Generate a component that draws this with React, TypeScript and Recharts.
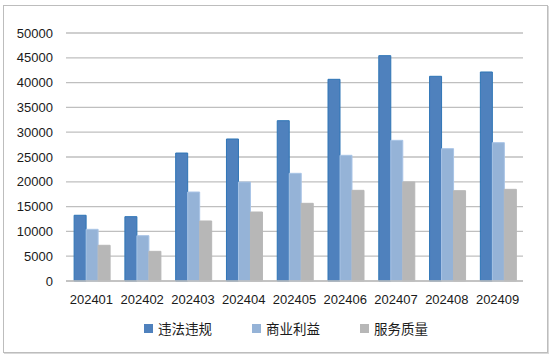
import React from "react";
import { BarChart, Bar, XAxis, YAxis, CartesianGrid, Legend } from "recharts";

const months = ["202401", "202402", "202403", "202404", "202405", "202406", "202407", "202408", "202409"];
const violations = [13250, 12970, 25800, 28630, 32320, 40660, 45430, 41270, 42140];
const commercial = [10420, 9140, 17940, 19960, 21710, 25340, 28360, 26680, 27890];
const service = [7200, 5980, 12100, 13910, 15660, 18280, 19960, 18210, 18480];
const yTicks = [0, 5000, 10000, 15000, 20000, 25000, 30000, 35000, 40000, 45000, 50000];

const SERIES = [
  { key: "violations", name: "违法违规", fill: "#4F81BD", stroke: "#2E75B6" },
  { key: "commercial", name: "商业利益", fill: "#95B3D7", stroke: "#A9C4E6" },
  { key: "service", name: "服务质量", fill: "#B7B7B7", stroke: "#B7B7B7" },
];

const data = months.map((m, i) => ({
  name: m,
  violations: violations[i],
  commercial: commercial[i],
  service: service[i],
}));

const FONT = "'Liberation Sans', Arial, 'Noto Sans CJK SC', sans-serif";

function LegendRow(props: any) {
  const payload = [...(props.payload || [])];
  // keep series order, not alphabetical
  payload.sort(
    (a: any, b: any) =>
      SERIES.findIndex((s) => s.name === a.value) - SERIES.findIndex((s) => s.name === b.value)
  );
  return (
    <div style={{ display: "flex", alignItems: "center", marginLeft: 144, height: 20 }}>
      {payload.map((p: any) => (
        <div key={p.value} style={{ display: "flex", alignItems: "center", marginRight: 40 }}>
          <span
            style={{
              width: 9,
              height: 9,
              background: p.color,
              display: "inline-block",
              marginRight: 5,
            }}
          />
          <span style={{ fontSize: 13.5, color: "#1a1a1a", fontFamily: "'Noto Sans CJK SC', sans-serif" }}>
            {p.value}
          </span>
        </div>
      ))}
    </div>
  );
}

export default function App() {
  return (
    <div style={{ position: "absolute", left: 0, top: 0, width: 550, height: 354, background: "#fff", fontFamily: FONT }}>
      <div
        style={{
          position: "absolute",
          left: 3,
          top: 5,
          width: 543,
          height: 346,
          border: "1px solid #BDBDBD",
          boxShadow: "1px 1px 0 #D9D9D9",
        }}
      />
      <BarChart
        width={550}
        height={354}
        data={data}
        margin={{ top: 33, right: 27, left: 0, bottom: 16 }}
        barCategoryGap="16%"
        barGap={0}
      >
        <CartesianGrid horizontal vertical={false} stroke="#BFBFBF" strokeWidth={1.3} />
        <XAxis
          dataKey="name"
          height={37}
          tickLine={false}
          axisLine={{ stroke: "#BFBFBF", strokeWidth: 1.3 }}
          tickMargin={8}
          tick={{ fontSize: 13, fill: "#1a1a1a" }}
          interval={0}
        />
        <YAxis
          width={66}
          domain={[0, 50000]}
          ticks={yTicks}
          tickLine={false}
          axisLine={false}
          tickMargin={7}
          tick={{ fontSize: 13, fill: "#1a1a1a" }}
        />
        <Legend verticalAlign="bottom" content={<LegendRow />} />
        {SERIES.map((s) => (
          <Bar
            key={s.key}
            dataKey={s.key}
            name={s.name}
            fill={s.fill}
            stroke={s.stroke}
            strokeWidth={1}
            isAnimationActive={false}
          />
        ))}
      </BarChart>
    </div>
  );
}
